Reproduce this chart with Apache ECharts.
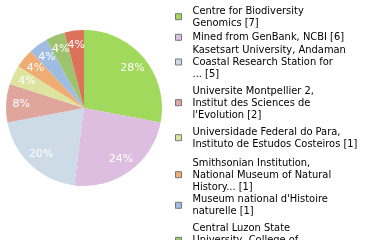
<!DOCTYPE html>
<html>
<head>
<meta charset="utf-8">
<script src="https://cdn.jsdelivr.net/npm/echarts@6/dist/echarts.min.js"></script>
<style>
html,body{margin:0;padding:0;background:#fff;}
#c{width:380px;height:240px;}
</style>
</head>
<body>
<div id="c"></div>
<script>
// Data
var categories = [
  "Centre for Biodiversity Genomics",
  "Mined from GenBank, NCBI",
  "Kasetsart University, Andaman Coastal Research Station for ...",
  "Universite Montpellier 2, Institut des Sciences de l'Evolution",
  "Universidade Federal do Para, Instituto de Estudos Costeiros",
  "Smithsonian Institution, National Museum of Natural History...",
  "Museum national d'Histoire naturelle",
  "Central Luzon State University, College of Fisheries...",
  "Other institution"
];
var legendLines = [
  "Centre for Biodiversity\nGenomics",
  "Mined from GenBank, NCBI",
  "Kasetsart University, Andaman\nCoastal Research Station for\n...",
  "Universite Montpellier 2,\nInstitut des Sciences de\nl'Evolution",
  "Universidade Federal do Para,\nInstituto de Estudos Costeiros",
  "Smithsonian Institution,\nNational Museum of Natural\nHistory...",
  "Museum national d'Histoire\nnaturelle",
  "Central Luzon State\nUniversity, College of\nFisheries...",
  "Other institution"
];
var counts = [7, 6, 5, 2, 1, 1, 1, 1, 1];

// Style / layout (not data)
var colors = ["#a0d95b", "#ddbde0", "#cddbe7", "#e0a59c", "#dde49e", "#efad73", "#9fbde2", "#9dc36f", "#dc725a"];
var legendTops = [4.7, 31.3, 44, 84.7, 125.7, 156.7, 193.3, 222.3, 262];
var FONT = "'DejaVu Sans Condensed', 'DejaVu Sans', sans-serif";

var total = counts.reduce(function (a, b) { return a + b; }, 0);
var pieData = categories.map(function (n, i) {
  return { name: n, value: counts[i], itemStyle: { color: colors[i] } };
});

var legends = categories.map(function (n, i) {
  return {
    data: [n],
    orient: 'vertical',
    left: 175,
    top: legendTops[i],
    padding: 0,
    icon: 'rect',
    itemWidth: 6,
    itemHeight: 6,
    selectedMode: false,
    itemStyle: { borderColor: '#777', borderWidth: 1, color: colors[i] },
    textStyle: { fontFamily: FONT, fontSize: 11, lineHeight: 12, color: '#000', padding: [0, 0, 0, 6] },
    formatter: function () { return legendLines[i] + ' [' + counts[i] + ']'; }
  };
});

var chart = echarts.init(document.getElementById('c'), null, { renderer: 'canvas' });
chart.setOption({
  animation: false,
  legend: legends,
  series: [
    {
      type: 'pie',
      center: [84, 108],
      radius: [0, 78],
      startAngle: 90,
      clockwise: true,
      silent: true,
      label: { show: false },
      labelLine: { show: false },
      data: pieData
    },
    {
      type: 'pie',
      center: [84, 108],
      radius: [42, 78],
      startAngle: 90,
      clockwise: true,
      silent: true,
      avoidLabelOverlap: false,
      labelLayout: { hideOverlap: false },
      itemStyle: { color: 'rgba(0,0,0,0)' },
      label: {
        show: true,
        position: 'inside',
        overflow: 'none',
        color: '#fff',
        fontFamily: "'DejaVu Sans', sans-serif",
        fontSize: 11,
        formatter: function (p) { return Math.round(p.value / total * 100) + '%'; }
      },
      labelLine: { show: false },
      data: categories.map(function (n, i) { return { name: n, value: counts[i], itemStyle: { color: 'rgba(0,0,0,0)' } }; })
    }
  ]
});
</script>
</body>
</html>
